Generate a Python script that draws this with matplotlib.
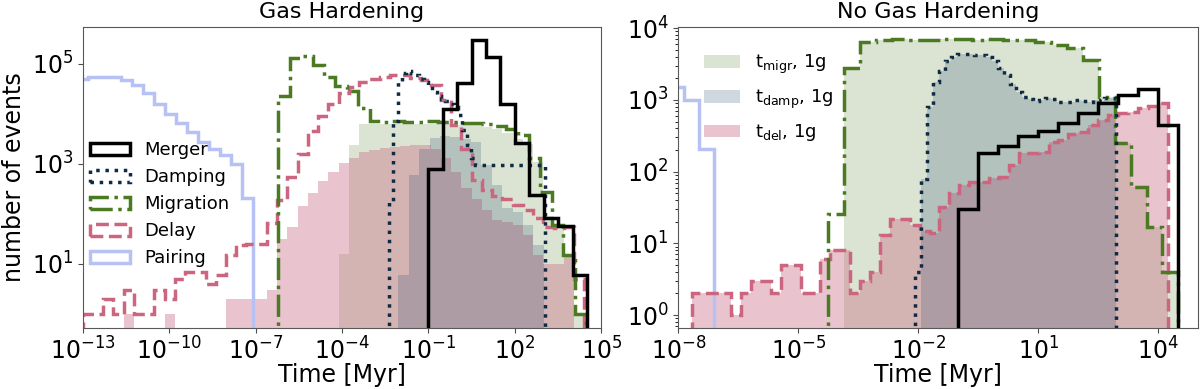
import numpy as np
import matplotlib
matplotlib.use("Agg")
import matplotlib.pyplot as plt
from matplotlib.ticker import NullLocator

# log10 range of the bins + counts per bin

# pairing (same sample in both panels)
pair_range = (-13.18, -7.10)
pair_counts = [49000, 54000, 55000, 54000, 48000, 38000, 26000, 16000,
               10000, 6500, 4300, 2800, 2000, 1500, 1000, 210]

# ---- Gas Hardening ----
gh_merger_range = (-1.0, 4.5)
gh_merger = [800, 12600, 41000, 300000, 141000, 16000, 2600, 240, 85, 58, 6]

gh_damp_range = (-2.37, 3.03)
gh_damp = [178, 7100, 45000, 64600, 70800, 66000, 59000, 51000, 44000, 35500,
           28000, 23000, 20000, 18000, 16000, 14000, 9500, 4800, 2400, 1300,
           950, 960, 940, 950, 970, 950, 940, 960, 950, 950, 940, 960, 950, 950,
           960, 940]

gh_migr_range = (-6.21, 4.47)
gh_migr = [22400, 129000, 145000, 95500, 53700, 36300, 28200, 12900, 7100,
           7000, 7100, 7000, 7000, 7100, 7000, 6900, 6600, 6500, 6300, 5750,
           5000, 3800, 1290, 280, 60, 15, 1]

gh_del_range = (-13.0, 4.41)
gh_del = [1, 1, 2, 1, 3, 1, 1, 3, 2, 5, 7, 7, 4, 6, 15, 24, 25, 25, 65, 190,
          540, 1600, 4500, 9000, 16000, 26000, 35000, 43000, 51000, 56000,
          60000, 60000, 52000, 48000, 38000, 19000, 6000, 2000, 480, 300,
          230, 200, 150, 120, 85, 56, 52, 56, 5]

# first-generation samples (filled); delay and migration share the delay bins
gh_del_1g = [0, 0, 0, 0, 1, 0, 0, 0, 1, 0, 0, 0, 0, 0, 2, 2, 2, 2, 3, 32,
             54, 145, 260, 465, 700, 1030, 1300, 1700, 1900, 2100,
             2200, 2300, 2400, 2400, 2000, 1300, 700, 330, 200, 120,
             76, 70, 60, 38, 15, 10, 10, 15, 0]
gh_migr_1g = [0] * 25 + [16, 2400, 6300, 6300, 6300, 6300, 6300, 6300, 6300,
                         6300, 6200, 6100, 6000, 5900, 5600, 5000, 4200, 3200,
                         2500, 1100, 90, 60, 15, 1]
gh_damp_1g_range = (-2.04, 3.0)
gh_damp_1g = [6, 600, 2000, 3300, 3600, 3500, 3200, 2800, 950, 380, 130, 110,
              60, 24]

# ---- No Gas Hardening ----
ng_merger_range = (-1.0, 4.5)
ng_merger = [30, 180, 225, 310, 370, 470, 650, 900, 1170, 1400, 450]

ng_damp_range = (-2.08, 2.95)
ng_damp = [4, 80, 800, 1800, 2500, 3500, 4000, 4300, 4300, 4300, 4200, 4200,
           4000, 3500, 2800, 2200, 1650, 1300, 1100, 1020, 980, 1000, 1050,
           1020, 950, 930, 950, 1000, 980, 950, 1000, 980, 1050, 1070]

ng_migr_range = (-4.25, 4.50)
ng_migr = [26, 2800, 6500, 6900, 7000, 6900, 6900, 7000, 7000, 6900, 7000,
           6900, 6800, 6500, 5900, 5250, 3600, 1100, 250, 62, 17, 4]

ng_del_range = (-7.67, 4.23)
ng_del = [2, 2, 2, 2, 1, 2, 3, 3, 2, 5, 5, 2, 2, 6, 8, 8, 2, 3, 4, 13,
          22, 22, 18, 15, 14, 32, 50, 65, 72, 72, 81, 85, 125, 180, 180, 190,
          260, 275, 340, 360, 450, 525, 620, 650, 670, 765, 830, 900]

ng_migr_1g = [0] + ng_migr[1:]
ng_damp_1g = [0] + ng_damp[1:]
ng_del_1g = ng_del

c_merger = "black"
c_damp = "#0f2a44"
c_migr = "#4b7a22"
c_del = "#cc6680"
c_pair = "#b7c1f3"
f_migr_c = "#4b7a22"
f_damp_c = "#284b6e"
f_del_c = "#c86c85"


def hist(ax, rng, counts, filled=False, **kw):
    e = np.logspace(rng[0], rng[1], len(counts) + 1)
    mids = np.sqrt(e[:-1] * e[1:])
    htype = "stepfilled" if filled else "step"
    _, _, p = ax.hist(mids, bins=e, weights=counts, histtype=htype, log=True, **kw)
    return p[0]


fig = plt.figure(figsize=(12, 3.89), dpi=100)
ax1 = fig.add_axes([0.0689, 0.1576, 0.4322, 0.7738])
ax2 = fig.add_axes([0.5653, 0.1576, 0.4333, 0.7738])

lw = 2.5

# left panel
hist(ax1, gh_del_range, gh_migr_1g, filled=True, color=f_migr_c, alpha=0.2, lw=0)
hist(ax1, gh_del_range, gh_del_1g, filled=True, color=f_del_c, alpha=0.4, lw=0)
hist(ax1, gh_damp_1g_range, gh_damp_1g, filled=True, color=f_damp_c, alpha=0.22, lw=0)

h_pair = hist(ax1, pair_range, pair_counts, color=c_pair, lw=lw, label="Pairing")
h_del = hist(ax1, gh_del_range, gh_del, color=c_del, lw=lw, ls="--", label="Delay")
h_migr = hist(ax1, gh_migr_range, gh_migr, color=c_migr, lw=lw, ls="-.", label="Migration")
h_damp = hist(ax1, gh_damp_range, gh_damp, color=c_damp, lw=lw, ls=":", label="Damping")
h_merg = hist(ax1, gh_merger_range, gh_merger, color=c_merger, lw=lw, label="Merger")

ax1.legend(handles=[h_merg, h_damp, h_migr, h_del, h_pair], loc="center left",
           bbox_to_anchor=(0.0, 0.41), borderaxespad=0, frameon=False,
           fontsize=13, handlelength=2.2)

# right panel
f_migr = hist(ax2, ng_migr_range, ng_migr_1g, filled=True, color=f_migr_c, alpha=0.2,
              lw=0, label="t$_{\\mathrm{migr}}$, 1g")
f_del = hist(ax2, ng_del_range, ng_del_1g, filled=True, color=f_del_c, alpha=0.4,
             lw=0, label="t$_{\\mathrm{del}}$, 1g")
f_damp = hist(ax2, ng_damp_range, ng_damp_1g, filled=True, color=f_damp_c, alpha=0.22,
              lw=0, label="t$_{\\mathrm{damp}}$, 1g")

hist(ax2, pair_range, pair_counts, color=c_pair, lw=lw)
hist(ax2, ng_del_range, ng_del, color=c_del, lw=lw, ls="--")
hist(ax2, ng_migr_range, ng_migr, color=c_migr, lw=lw, ls="-.")
hist(ax2, ng_damp_range, ng_damp, color=c_damp, lw=lw, ls=":")
hist(ax2, ng_merger_range, ng_merger, color=c_merger, lw=lw)

ax2.legend(handles=[f_migr, f_damp, f_del], loc="center left",
           bbox_to_anchor=(0.036, 0.763), borderaxespad=0, frameon=False,
           fontsize=13, labelspacing=0.65)

for ax in (ax1, ax2):
    ax.set_xscale("log")
    ax.xaxis.set_minor_locator(NullLocator())
    ax.tick_params(labelsize=17, color="0.3")
    ax.set_xlabel("Time [Myr]", fontsize=17, labelpad=-1)
    for s in ax.spines.values():
        s.set_color("0.35")

ax1.set_xlim(1e-13, 1e5)
ax1.set_ylim(0.532, 5.57e5)
ax1.set_xticks([1e-13, 1e-10, 1e-7, 1e-4, 1e-1, 1e2, 1e5])
ax1.set_yticks([1e1, 1e3, 1e5])
ax1.yaxis.set_minor_locator(NullLocator())
ax1.set_ylabel("number of events", fontsize=17)
ax1.set_title("Gas Hardening", fontsize=16)

ax2.set_xlim(1e-8, 1e5)
ax2.set_ylim(0.667, 1.05e4)
ax2.set_xticks([1e-8, 1e-5, 1e-2, 1e1, 1e4])
ax2.set_yticks([1e0, 1e1, 1e2, 1e3, 1e4])
ax2.set_title("No Gas Hardening", fontsize=16)

fig.savefig("out.png", dpi=100)
